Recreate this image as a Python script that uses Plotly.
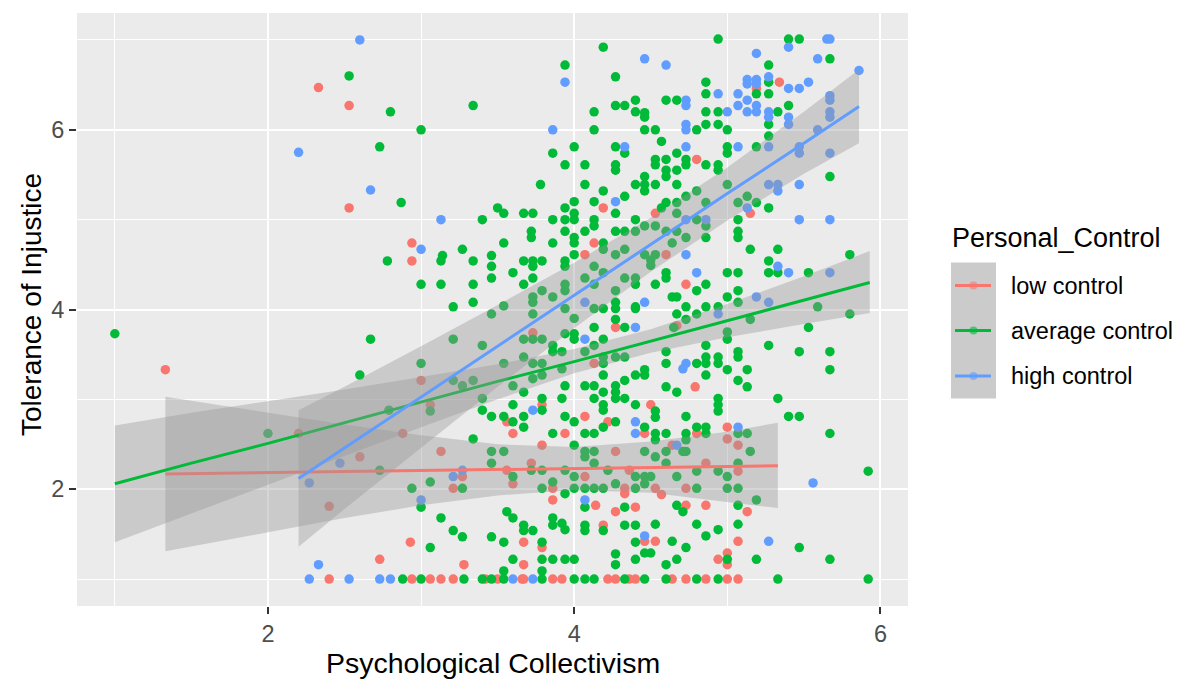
import plotly.graph_objects as go

# colours of the three Personal_Control groups (ggplot default hue palette)
groups = ['low control', 'average control', 'high control']
group_colors = ['#F8766D', '#00BA38', '#619CFF']

# ---- scatter points ----
low_x = [2.33, 2.53, 2.53, 1.33, 2.2, 2.6, 2.4, 2.4, 2.73,
         4.19, 2.94, 2.94, 4.13, 4.07,
         4.27, 3.73, 4.13, 3.0, 3.79, 3.06, 3.56, 4.07, 4.22, 2.88, 3.60, 3.94, 3.79, 3.13, 4.27,
         3.72, 3.56, 4.36, 3.27, 3.60, 4.07, 3.86, 4.33, 4.33, 3.21, 3.86, 4.14, 4.40, 4.27, 4.19,
         3.67, 3.79, 2.93, 3.28, 3.67,
         2.94, 3.06, 3.13, 3.21, 3.42, 3.50, 3.66, 3.67, 3.86, 3.92, 4.22, 4.27, 4.36, 4.40,
         4.80, 5.19, 5.34, 5.15, 4.53, 4.60, 4.73,
         4.67, 4.79, 4.50, 4.46, 4.80, 5.0, 5.0, 5.07, 4.64, 4.86, 5.07, 4.53, 4.57, 4.73, 4.73,
         4.86, 5.13, 4.46, 4.53, 5.07, 4.94, 5.0, 5.0,
         4.64, 4.73, 4.86, 5.0, 5.07]
low_y = [6.47, 6.27, 5.13, 3.33, 2.62, 2.36, 1.81, 1.0, 1.22,
         5.13, 4.74, 4.54, 4.74, 4.61,
         3.80, 3.74, 3.40, 3.21, 2.94, 2.94, 2.75, 2.81, 2.75, 2.62, 2.62, 2.62, 2.49, 2.42, 2.42,
         2.29, 2.21, 2.21, 2.14, 2.06, 2.14, 2.01, 2.01, 1.95, 2.01, 1.88, 1.82, 1.80, 1.75, 1.60,
         1.41, 1.35, 1.41, 1.16, 1.16,
         1.0, 1.0, 1.0, 1.0, 1.0, 1.0, 1.0, 1.0, 1.0, 1.0, 1.0, 1.0, 1.0, 1.0,
         5.67, 6.46, 6.53, 5.07, 5.07, 4.61, 4.28,
         3.82, 3.14, 2.94, 2.62, 2.62, 2.69, 2.56, 2.49, 2.49, 2.29, 2.20, 2.01, 1.94, 2.01, 1.82,
         1.82, 1.75, 1.42, 1.42, 1.42, 1.22, 1.29, 1.16,
         1.0, 1.0, 1.0, 1.0, 1.0]

avg_x = [2.53, 1.0, 2.67, 2.6, 2.0,
         4.19, 3.94, 4.27, 4.40, 4.27, 4.33, 4.13, 4.40, 2.80, 3.34, 3.0, 4.13, 2.73, 4.0, 4.27,
         4.33, 3.86, 3.94, 4.07, 4.27, 4.27, 3.78, 4.07, 4.40, 2.87, 4.19, 4.33, 4.0, 4.13, 3.94,
         3.50, 3.54, 3.67, 3.73, 4.27, 4.0, 4.0, 3.94, 3.86, 4.13, 4.13, 4.40, 3.40, 3.72, 3.72,
         3.94, 4.07, 4.27, 4.33, 4.40, 4.0, 4.0, 3.54, 3.86, 4.19, 2.78, 3.14, 3.13, 3.27, 3.34,
         3.46, 3.46, 3.67, 3.73, 3.79, 3.73, 3.60, 3.46, 3.94, 3.94, 4.0, 3.0, 3.13, 3.34, 3.67,
         3.73, 3.79, 3.86, 3.94, 3.94, 4.07, 4.13, 4.13, 4.19, 4.19, 4.27, 4.33, 4.27, 4.33, 4.40,
         4.40, 3.34, 3.21, 3.73, 3.73, 3.54, 4.27, 4.40,
         3.73, 3.46, 3.94, 4.0, 4.13, 4.19, 4.27, 4.40, 4.27, 4.33, 4.13, 3.94, 4.0, 4.0, 4.19,
         3.67, 3.73, 3.79, 3.86, 3.86, 3.92, 4.07, 4.13, 4.19, 4.19, 4.19, 4.27, 4.33, 3.21, 3.40,
         3.0, 3.54, 3.67, 3.73, 3.79, 3.92, 3.73, 3.79, 3.21, 3.27, 3.34, 3.60, 3.67, 3.94, 4.07,
         4.13, 4.27, 4.27, 4.33, 4.40, 4.19, 3.40, 3.79, 3.79, 3.92, 4.13, 4.27, 4.33, 4.19, 4.19,
         4.40, 3.06, 2.79, 3.60, 3.40, 3.46, 3.54, 3.60, 3.67, 3.67, 3.94, 4.0, 4.27, 3.86, 4.07,
         4.13, 4.19, 3.34, 4.0, 3.46, 3.54, 4.07, 4.07, 4.13, 3.46, 4.13, 2.73, 3.72, 3.79, 3.94,
         4.22, 4.40, 3.60, 4.0, 3.86, 3.79, 3.94, 4.0, 4.07, 4.13, 4.19, 4.27, 4.40, 2.94, 3.06,
         3.27, 3.0, 4.07, 4.33, 3.13, 3.56, 3.60, 3.86, 3.86, 3.92, 3.94, 3.67, 3.67, 3.73, 4.07,
         4.07, 4.19, 4.33, 4.40, 3.21, 3.27, 3.46, 3.54, 3.79, 3.06, 4.40, 4.27, 4.27, 3.60, 3.79,
         3.86, 3.94, 4.0, 4.40, 3.54, 3.79,
         2.88, 3.0, 3.28, 3.40, 3.46, 3.54, 3.79, 4.0, 4.07, 4.13, 4.33,
         4.94, 5.40, 5.47, 5.27, 5.67, 4.86, 5.19, 5.27, 5.27, 4.86, 4.60, 4.67, 5.40, 5.33, 4.46,
         4.46, 4.86, 4.94, 4.86, 4.94, 4.46, 4.53, 4.80, 5.0, 5.27, 5.27, 4.57, 5.0, 5.0, 5.19,
         4.67, 4.53, 4.53, 4.60, 4.73, 4.73, 4.86, 4.94, 4.94, 4.60, 4.60, 4.67, 4.46, 4.46, 4.53,
         4.46, 4.67, 5.0, 5.67, 4.80, 4.73, 4.60, 4.57, 4.67, 4.67, 4.86, 5.07, 5.13, 5.19, 5.27,
         4.80, 5.07, 4.46, 4.53, 4.60, 4.67, 4.86, 4.86, 5.07, 5.07, 4.73, 4.64, 4.46, 4.53, 4.50,
         4.50, 5.15, 5.33, 5.27, 5.80, 4.60, 4.60, 5.0, 5.07, 5.27, 5.33, 5.53, 4.53, 4.86, 4.80,
         4.64, 4.67, 5.0, 5.07, 5.07, 5.59, 4.73, 4.86, 4.94,
         4.67, 4.80, 4.73, 5.0, 5.0, 5.15, 5.53, 5.80, 4.65, 4.86, 5.27, 4.60, 4.60, 4.80, 4.86,
         4.86, 4.94, 4.94, 5.07, 5.07, 5.47, 5.67, 5.67, 4.46, 4.46, 4.86, 5.0, 5.13, 5.07, 4.60,
         4.67, 5.13, 5.33, 4.53, 4.53, 4.94, 4.94, 4.94, 4.73, 5.40, 5.47, 4.46, 4.53, 4.53, 4.60,
         4.73, 4.73, 4.80, 4.86, 4.86, 5.07, 5.13, 5.67, 4.46, 4.53, 4.60, 4.71, 4.73, 5.15, 4.60,
         5.07, 4.80, 4.94, 4.46, 4.50, 4.67, 5.0, 5.92, 4.46, 4.80, 5.0, 5.07, 5.19, 4.67, 4.71,
         5.07, 4.53, 4.80, 5.07, 4.94, 4.86, 4.64, 4.73, 5.47, 4.46, 4.50, 4.67, 5.0, 5.19, 5.67,
         4.60,
         4.46, 4.60, 4.80, 4.94, 5.33, 5.92]
avg_y = [6.60, 3.73, 3.67, 3.27, 2.62,
         6.92, 6.72, 6.59, 6.33, 6.27, 6.27, 6.20, 6.20, 6.20, 6.27, 6.0, 6.0, 5.81, 5.81, 5.81,
         5.74, 5.74, 5.61, 5.61, 5.61, 5.55, 5.39, 5.39, 5.39, 5.19, 5.32, 5.26, 5.20, 5.20, 5.13,
         5.13, 5.07, 5.07, 5.07, 5.07, 5.07, 5.0, 5.0, 5.0, 5.0, 4.93, 5.0, 5.0, 4.87, 4.80,
         4.87, 4.87, 4.87, 4.87, 4.87, 4.80, 4.74, 4.74, 4.74, 4.74, 4.54, 4.60, 4.54, 4.67, 4.54,
         4.60, 4.48, 4.54, 4.54, 4.54, 4.48, 4.41, 4.35, 4.54, 4.48, 4.61, 4.28, 4.28, 4.28, 4.28,
         4.35, 4.21, 4.14, 4.28, 4.21, 4.35, 4.48, 4.28, 4.67, 4.41, 4.61, 4.67, 4.21, 4.35, 4.35,
         4.28, 4.08, 4.03, 4.14, 4.08, 4.04, 4.08, 4.03,
         3.95, 3.95, 4.01, 3.90, 4.01, 4.01, 4.01, 4.01, 3.89, 3.80, 3.80, 3.73, 3.73, 3.67, 3.67,
         3.67, 3.67, 3.67, 3.60, 3.53, 3.53, 3.53, 3.60, 3.47, 3.40, 3.27, 3.47, 3.47, 3.67, 3.60,
         3.40, 3.40, 3.47, 3.40, 3.40, 3.34, 3.23, 3.27, 3.21, 3.15, 3.21, 3.15, 3.08, 3.15, 3.15,
         3.15, 3.15, 3.08, 3.21, 3.27, 3.08, 3.01, 3.01, 2.88, 3.01, 3.01, 3.01, 3.01, 2.94, 2.88,
         2.94, 2.87, 2.88, 2.94, 2.88, 2.81, 2.81, 2.75, 2.81, 2.69, 2.81, 2.75, 2.75, 2.62, 2.62,
         2.62, 2.69, 2.56, 2.49, 2.42, 2.42, 2.42, 2.36, 2.42, 2.29, 2.29, 2.21, 2.21, 2.21, 2.21,
         2.21, 2.14, 2.14, 2.14, 2.08, 2.01, 1.95, 2.01, 2.01, 2.01, 2.01, 2.06, 2.01, 2.01, 2.08,
         2.01, 1.80, 1.80, 1.80, 1.68, 1.75, 1.68, 1.68, 1.60, 1.62, 1.55, 1.60, 1.54, 1.54, 1.60,
         1.54, 1.54, 1.60, 1.60, 1.54, 1.47, 1.47, 1.41, 1.41, 1.35, 1.41, 1.28, 1.16, 1.22, 1.22,
         1.22, 1.22, 1.22, 1.22, 1.09, 1.09,
         1.0, 1.0, 1.0, 1.0, 1.0, 1.0, 1.0, 1.0, 1.0, 1.0, 1.0,
         7.01, 7.01, 7.01, 6.72, 6.79, 6.53, 6.40, 6.53, 6.40, 6.40, 6.33, 6.33, 6.27, 6.20, 6.19,
         6.14, 6.20, 6.20, 6.06, 6.06, 6.0, 6.0, 6.0, 6.0, 6.06, 5.93, 5.87, 5.81, 5.74, 5.81,
         5.74, 5.67, 5.61, 5.67, 5.67, 5.61, 5.61, 5.61, 5.55, 5.55, 5.48, 5.55, 5.48, 5.39, 5.39,
         5.32, 5.39, 5.39, 5.48, 5.32, 5.26, 5.19, 5.13, 5.19, 5.07, 5.19, 5.19, 5.26, 5.19, 5.13,
         5.0, 5.0, 4.93, 4.93, 4.87, 4.87, 4.93, 4.80, 4.87, 4.80, 4.80, 4.74, 4.61, 4.61, 4.55,
         4.49, 4.67, 4.67, 4.54, 4.61, 4.41, 4.35, 4.41, 4.41, 4.41, 4.41, 4.41, 4.28, 4.28, 4.21,
         4.14, 4.14, 4.14, 4.21, 4.08, 4.03, 4.03, 4.03, 4.03,
         3.95, 3.95, 3.89, 3.75, 3.67, 3.89, 3.80, 3.95, 3.80, 3.60, 3.60, 3.53, 3.40, 3.40, 3.47,
         3.40, 3.47, 3.40, 3.53, 3.47, 3.53, 3.53, 3.33, 3.33, 3.27, 3.27, 3.33, 3.33, 3.21, 3.14,
         3.08, 3.14, 3.01, 2.87, 2.80, 3.01, 2.94, 2.87, 2.81, 2.81, 2.81, 2.69, 2.62, 2.55, 2.62,
         2.62, 2.55, 2.69, 2.69, 2.62, 2.62, 2.62, 2.62, 2.42, 2.36, 2.42, 2.42, 2.42, 2.42, 2.29,
         2.29, 2.20, 2.20, 2.14, 2.14, 2.14, 2.14, 2.20, 2.06, 2.01, 2.01, 2.01, 1.88, 1.82, 1.75,
         1.82, 1.61, 1.61, 1.61, 1.55, 1.48, 1.42, 1.35, 1.35, 1.29, 1.29, 1.22, 1.22, 1.22, 1.22,
         1.16,
         1.0, 1.0, 1.0, 1.0, 1.0, 1.0]

high_x = [2.6, 2.2, 2.67, 2.47, 2.27, 2.33, 2.27, 2.53, 2.73,
          3.94, 3.86, 4.33, 4.27, 3.13, 3.0, 4.07,
          4.40, 4.07, 3.73, 4.40, 4.40, 3.21, 3.27, 3.0, 4.07, 2.80, 3.60, 3.73,
          5.65, 5.67, 5.40, 4.46, 4.60, 5.19, 5.59, 5.86, 5.13, 5.19, 5.13, 5.19, 5.27, 5.40, 5.47,
          5.53, 4.94, 5.07, 4.73, 4.73, 5.13, 5.07, 5.19, 5.19, 5.13, 5.27, 5.27, 5.40, 5.40, 5.67,
          5.67, 5.67, 5.67, 5.0, 4.73, 4.73, 5.59, 4.73, 5.07, 5.27, 5.47, 5.47, 5.67, 5.27, 5.33,
          5.33, 5.47, 5.13, 4.73, 4.86, 5.47, 5.67, 4.73, 4.80, 5.33, 5.40, 5.67, 5.19, 5.27, 4.46,
          4.94, 4.73, 4.71, 5.07, 4.67, 5.56, 4.46, 5.27]
high_y = [7.0, 5.75, 5.33, 2.29, 2.07, 1.16, 1.0, 1.0, 1.0,
          6.53, 6.0, 5.81, 5.20, 5.0, 4.67, 4.08,
          3.80, 3.67, 2.88, 2.75, 2.62, 2.14, 2.21, 1.88, 1.88, 1.0, 1.0, 1.0,
          7.01, 7.01, 6.92, 6.79, 6.72, 6.85, 6.79, 6.66, 6.56, 6.56, 6.51, 6.51, 6.59, 6.46, 6.46,
          6.53, 6.40, 6.40, 6.33, 6.27, 6.33, 6.27, 6.27, 6.20, 6.20, 6.20, 6.14, 6.14, 6.06, 6.38,
          6.33, 6.20, 6.14, 6.20, 6.06, 6.0, 6.0, 5.81, 5.81, 5.81, 5.81, 5.74, 5.74, 5.39, 5.39,
          5.32, 5.39, 5.13, 5.0, 5.0, 5.0, 5.0, 4.61, 4.41, 4.48, 4.41, 4.41, 4.14, 4.08, 4.08,
          3.95, 3.40, 3.34, 2.69, 2.49, 2.07, 1.48, 1.42]

# ---- lm smooth lines and 95% bands ----
low_fit_x = [1.33, 2.0, 2.5, 3.0, 3.5, 4.0, 4.5, 5.0, 5.33]
low_fit = [2.17, 2.185, 2.196, 2.208, 2.219, 2.23, 2.241, 2.253, 2.26]
low_upper = [3.03, 2.85, 2.72, 2.60, 2.50, 2.47, 2.53, 2.64, 2.74]
low_lower = [1.31, 1.52, 1.68, 1.82, 1.93, 1.99, 1.96, 1.86, 1.79]

avg_fit_x = [1.0, 1.5, 2.0, 2.5, 3.0, 3.5, 4.0, 4.5, 5.0, 5.5, 5.93]
avg_fit = [2.06, 2.29, 2.51, 2.74, 2.97, 3.20, 3.42, 3.65, 3.88, 4.11, 4.30]
avg_upper = [2.71, 2.85, 2.98, 3.11, 3.25, 3.39, 3.56, 3.78, 4.06, 4.37, 4.65]
avg_lower = [1.41, 1.73, 2.05, 2.37, 2.69, 3.00, 3.29, 3.52, 3.69, 3.84, 3.96]

high_fit_x = [2.2, 2.5, 3.0, 3.5, 4.0, 4.5, 5.0, 5.5, 5.86]
high_fit = [2.12, 2.46, 3.03, 3.59, 4.16, 4.72, 5.29, 5.85, 6.26]
high_upper = [2.88, 3.14, 3.59, 4.05, 4.52, 5.02, 5.58, 6.20, 6.67]
high_lower = [1.36, 1.78, 2.46, 3.14, 3.79, 4.42, 4.99, 5.51, 5.85]

x_ticks = [2, 4, 6]
y_ticks = [2, 4, 6]

FONT = 'Liberation Sans, Arial, sans-serif'
points = [(low_x, low_y), (avg_x, avg_y), (high_x, high_y)]
smooths = [(low_fit_x, low_fit, low_upper, low_lower),
           (avg_fit_x, avg_fit, avg_upper, avg_lower),
           (high_fit_x, high_fit, high_upper, high_lower)]

fig = go.Figure()

# points first, smooths on top (as geom_point + geom_smooth)
for name, col, (px, py) in zip(groups, group_colors, points):
    fig.add_trace(go.Scatter(x=px, y=py, mode='markers', name=name,
                             marker=dict(color=col, size=9.5, line=dict(width=0)),
                             showlegend=False))

for name, col, (fx, fy, up, lo) in zip(groups, group_colors, smooths):
    fig.add_trace(go.Scatter(x=fx + fx[::-1], y=up + lo[::-1], mode='lines',
                             fill='toself', fillcolor='rgba(153,153,153,0.4)',
                             line=dict(width=0), hoverinfo='skip', showlegend=False))
    fig.add_trace(go.Scatter(x=fx, y=fy, mode='lines', name=name,
                             line=dict(color=col, width=3), showlegend=False))

# the page body has an 8px margin, so the figure is 8px smaller than the window
PAGE = 8
FIG_W, FIG_H = 1181 - PAGE, 694 - PAGE
L, T, H = 77, 13, 593          # plot-area left / top / height in window px
W = 831


def px_x(v):
    return (v - L) / W


def px_y(v):
    return (T + H - v) / H


# hand-made legend (grey keys like ggplot's smooth keys)
shapes = [dict(type='rect', xref='paper', yref='paper', x0=px_x(951), x1=px_x(996),
               y0=px_y(398.5), y1=px_y(262.5), fillcolor='#CBCBCB', line=dict(width=0),
               layer='above')]
annotations = [dict(text='Personal_Control', xref='paper', yref='paper', x=px_x(950), y=px_y(238),
                    xanchor='left', yanchor='middle', showarrow=False,
                    font=dict(family=FONT, size=27, color='black'))]
key_mid = [285.5, 330.5, 376]
for name, col, ky in zip(groups, group_colors, key_mid):
    shapes.append(dict(type='circle', xref='paper', yref='paper', xsizemode='pixel',
                       ysizemode='pixel', xanchor=px_x(973.5), yanchor=px_y(ky),
                       x0=-4, x1=4, y0=-4, y1=4, fillcolor=col, opacity=0.6,
                       line=dict(width=0)))
    shapes.append(dict(type='line', xref='paper', yref='paper', x0=px_x(955), x1=px_x(991),
                       y0=px_y(ky), y1=px_y(ky), line=dict(color=col, width=3)))
    annotations.append(dict(text=name, xref='paper', yref='paper', x=px_x(1009), y=px_y(ky),
                            xanchor='left', yanchor='middle', showarrow=False,
                            font=dict(family=FONT, size=23.5, color='black')))

# axis titles
annotations.append(dict(text='Psychological Collectivism', xref='paper', yref='paper',
                        x=0.5, y=px_y(663), xanchor='center', yanchor='middle',
                        showarrow=False, font=dict(family=FONT, size=28.5, color='black')))
annotations.append(dict(text='Tolerance of Injustice', xref='paper', yref='paper',
                        x=px_x(31), y=px_y(305), xanchor='center', yanchor='middle',
                        textangle=-90, showarrow=False,
                        font=dict(family=FONT, size=28, color='black')))

axis_common = dict(showline=False, zeroline=False, showgrid=True, gridcolor='white',
                   gridwidth=2, ticks='outside', ticklen=7, tickwidth=2, tickcolor='#333333',
                   tickfont=dict(family=FONT, size=23.5, color='#4D4D4D'))

fig.update_layout(
    width=FIG_W, height=FIG_H,
    margin=dict(l=L - PAGE, r=1181 - L - W, t=T - PAGE, b=694 - T - H),
    plot_bgcolor='#EBEBEB', paper_bgcolor='white',
    xaxis=dict(range=[0.753, 6.18], tickmode='array', tickvals=x_ticks,
               minor=dict(tickmode='array', tickvals=[1, 3, 5], showgrid=True,
                          gridcolor='white', gridwidth=1, ticks=''),
               **axis_common),
    yaxis=dict(range=[0.7, 7.3], tickmode='array', tickvals=y_ticks,
               minor=dict(tickmode='array', tickvals=[1, 3, 5, 7], showgrid=True,
                          gridcolor='white', gridwidth=1, ticks=''),
               **axis_common),
    shapes=shapes, annotations=annotations, showlegend=False,
)

fig.write_html('out.html')
